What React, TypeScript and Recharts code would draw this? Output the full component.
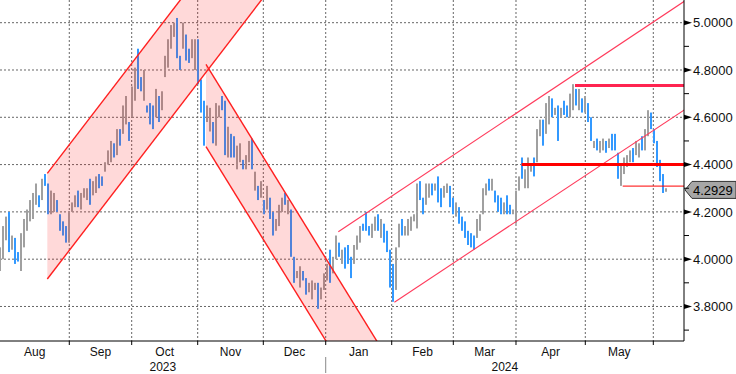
import React from 'react';
import {
  ComposedChart,
  Bar,
  Cell,
  Area,
  XAxis,
  YAxis,
  CartesianGrid,
  ReferenceLine,
} from 'recharts';

// daily high / low, one entry per trading day starting 1 Aug 2023
const highs = [
  4.05, 4.14, 4.18, 4.2, 4.1, 4.09, 4.03, 4.11, 4.17, 4.21,
  4.25, 4.28, 4.32, 4.27, 4.34, 4.36, 4.32, 4.29, 4.28, 4.25,
  4.19, 4.16, 4.14, 4.2, 4.24, 4.27, 4.29, 4.28, 4.3, 4.3,
  4.34, 4.33, 4.35, 4.36, 4.35, 4.41, 4.46, 4.5, 4.49, 4.55,
  4.55, 4.65, 4.69, 4.58, 4.73, 4.81, 4.89, 4.77, 4.8, 4.65,
  4.66, 4.65, 4.72, 4.69, 4.71, 4.86, 4.93, 4.99, 5.0, 5.02,
  4.86, 5.0, 4.95, 4.89, 4.93, 4.93, 4.93, 4.76, 4.67, 4.65,
  4.64, 4.58, 4.66, 4.65, 4.69, 4.67, 4.56, 4.53, 4.52, 4.48,
  4.49, 4.42, 4.44, 4.5, 4.51, 4.37, 4.31, 4.33, 4.25, 4.31,
  4.26, 4.2, 4.17, 4.23, 4.26, 4.28, 4.25, 4.21, 4.01, 3.95,
  3.97, 3.95, 3.92, 3.9, 3.91, 3.9, 3.9, 3.88, 3.94, 3.98,
  4.04, 4.01, 4.1, 4.07, 4.04, 4.05, 4.06, 4.01, 4.06, 4.1,
  4.14, 4.15, 4.2, 4.14, 4.15, 4.18, 4.19, 4.17, 4.15, 4.12,
  4.04, 3.98, 4.05, 4.15, 4.17, 4.14, 4.17, 4.18, 4.19, 4.32,
  4.33, 4.26, 4.32, 4.32, 4.32, 4.32, 4.35, 4.3, 4.31, 4.32,
  4.31, 4.26, 4.24, 4.22, 4.18, 4.16, 4.12, 4.11, 4.1, 4.17,
  4.19, 4.3, 4.32, 4.34, 4.34, 4.29, 4.27, 4.26, 4.24, 4.27,
  4.23, 4.21, 4.29, 4.35, 4.43, 4.38, 4.43, 4.4, 4.43, 4.55,
  4.59, 4.59, 4.66, 4.69, 4.68, 4.64, 4.65, 4.64, 4.67, 4.65,
  4.7, 4.74, 4.72, 4.72, 4.68, 4.69, 4.66, 4.6, 4.5, 4.51,
  4.5, 4.51, 4.5, 4.51, 4.53, 4.53, 4.45, 4.4, 4.43, 4.44,
  4.46, 4.47, 4.5, 4.49, 4.52, 4.55, 4.63, 4.62, 4.55, 4.5,
  4.42, 4.36, 4.3,
];

const lows = [
  3.95, 4.0, 4.08, 4.03, 4.04, 3.98, 3.99, 3.95, 4.05, 4.12,
  4.16, 4.17, 4.23, 4.22, 4.25, 4.31, 4.19, 4.19, 4.2, 4.2,
  4.12, 4.1, 4.07, 4.07, 4.2, 4.22, 4.22, 4.21, 4.26, 4.25,
  4.23, 4.27, 4.28, 4.3, 4.31, 4.37, 4.4, 4.41, 4.43, 4.44,
  4.48, 4.53, 4.57, 4.5, 4.6, 4.67, 4.72, 4.71, 4.67, 4.62,
  4.57, 4.55, 4.6, 4.58, 4.63, 4.77, 4.81, 4.89, 4.94, 4.85,
  4.8, 4.89, 4.84, 4.83, 4.85, 4.8, 4.74, 4.62, 4.48, 4.58,
  4.54, 4.49, 4.48, 4.6, 4.63, 4.44, 4.43, 4.43, 4.43, 4.38,
  4.41, 4.38, 4.38, 4.41, 4.38, 4.29, 4.25, 4.26, 4.19, 4.21,
  4.17, 4.1, 4.12, 4.14, 4.2, 4.23, 4.19, 4.01, 3.9, 3.92,
  3.88, 3.91, 3.85, 3.86, 3.83, 3.87, 3.79, 3.83, 3.87, 3.91,
  3.9, 3.94, 4.0, 4.01, 3.98, 3.96, 3.98, 3.92, 3.98, 4.04,
  4.07, 4.12, 4.12, 4.1, 4.09, 4.12, 4.12, 4.09, 4.07, 4.03,
  3.88, 3.82, 3.87, 4.05, 4.1, 4.1, 4.1, 4.12, 4.16, 4.13,
  4.25, 4.19, 4.23, 4.26, 4.27, 4.29, 4.24, 4.22, 4.26, 4.28,
  4.22, 4.19, 4.18, 4.15, 4.12, 4.09, 4.06, 4.05, 4.04, 4.09,
  4.12, 4.19, 4.27, 4.29, 4.29, 4.24, 4.2, 4.19, 4.19, 4.19,
  4.19, 4.19, 4.15, 4.29, 4.34, 4.3, 4.3, 4.37, 4.35, 4.41,
  4.52, 4.48, 4.53, 4.57, 4.6, 4.61, 4.5, 4.6, 4.61, 4.6,
  4.6, 4.63, 4.65, 4.63, 4.62, 4.62, 4.58, 4.5, 4.47, 4.46,
  4.45, 4.46, 4.45, 4.47, 4.46, 4.46, 4.34, 4.31, 4.36, 4.39,
  4.41, 4.41, 4.44, 4.43, 4.46, 4.46, 4.52, 4.55, 4.49, 4.39,
  4.33, 4.28, 4.285,
];

// 1 = closed higher (grey bar), 0 = closed lower (blue bar)
const ups = [
  1, 1, 1, 0, 1, 0, 0, 1, 1, 1,
  1, 1, 1, 0, 1, 0, 0, 1, 1, 0,
  0, 0, 0, 1, 1, 1, 0, 1, 1, 1,
  0, 1, 1, 0, 0, 1, 1, 1, 0, 1,
  0, 1, 1, 0, 1, 1, 0, 0, 1, 0,
  0, 0, 1, 0, 1, 1, 1, 1, 1, 0,
  0, 1, 0, 0, 1, 1, 0, 0, 0, 1,
  1, 0, 1, 1, 0, 0, 1, 0, 0, 1,
  1, 0, 1, 1, 0, 1, 0, 1, 0, 1,
  0, 0, 1, 1, 1, 0, 1, 0, 0, 1,
  1, 0, 0, 1, 1, 1, 0, 1, 1, 1,
  0, 1, 1, 0, 1, 0, 0, 0, 1, 1,
  1, 0, 0, 0, 1, 1, 0, 1, 0, 0,
  0, 0, 1, 1, 0, 1, 1, 1, 1, 1,
  0, 0, 1, 1, 0, 1, 0, 0, 1, 1,
  0, 0, 1, 0, 0, 0, 0, 0, 0, 1,
  1, 1, 1, 0, 1, 0, 0, 0, 1, 0,
  0, 1, 1, 1, 0, 1, 1, 1, 0, 1,
  1, 0, 1, 1, 0, 1, 0, 1, 0, 0,
  1, 1, 0, 1, 0, 1, 0, 0, 1, 0,
  1, 1, 0, 1, 0, 0, 0, 1, 1, 1,
  1, 0, 1, 1, 0, 1, 1, 0, 0, 0,
  0, 0, 1,
];

// month boundaries on the day index (Sep ... Jun) and the month each one closes
const monthEdges = [22.93, 43.73, 65.73, 87.6, 108.4, 130.4, 150.93, 171.83, 194.93, 217.6];
const monthLabels = ['Aug', 'Sep', 'Oct', 'Nov', 'Dec', 'Jan', 'Feb', 'Mar', 'Apr', 'May'];
const yearLabels = ['2023', '2024'];
const yearEdge = monthEdges[4];

const yTicks = [3.7, 3.8, 3.9, 4.0, 4.1, 4.2, 4.3, 4.4, 4.5, 4.6, 4.7, 4.8, 4.9, 5.0];
const yGrid = [3.8, 4.0, 4.2, 4.4, 4.6, 4.8, 5.0];

// drawn channels: [lower, upper] at start and end day
const riseChannel = [
  { day: 15.6, band: [3.916, 4.363] },
  { day: 90, band: [5.146, 5.593] },
];
const fallChannel = [
  { day: 68.5, band: [4.476, 4.824] },
  { day: 130, band: [3.212, 3.56] },
];
const trendTop = [
  { day: 112.6, v: 4.116 },
  { day: 228, v: 5.091 },
];
const trendBottom = [
  { day: 131.3, v: 3.818 },
  { day: 228, v: 4.632 },
];
const highLevel = { day: 191.5, v: 4.734 };
const midLevel = { day: 173.7, v: 4.4 };
const lowLevel = { day: 207.4, v: 4.309 };
const lastPrice = 4.2929;

const X_DOMAIN: [number, number] = [-0.167, 227.83];
const Y_DOMAIN: [number, number] = [3.654, 5.096];
const FONT = '"Liberation Sans", Arial, sans-serif';
const BLUE = '#3399ff';
const GREY = '#a0a0a0';

const rows = highs.map((h, i) => ({ day: i, range: [lows[i], h], up: ups[i] }));

type XTickInfo = { value: number; kind: 'edge' | 'month' | 'year'; text?: string };
const xTickInfo: XTickInfo[] = [];
monthEdges.forEach((e, i) => {
  const prev = i === 0 ? X_DOMAIN[0] : monthEdges[i - 1];
  xTickInfo.push({ value: (prev + e) / 2, kind: 'month', text: monthLabels[i] });
  xTickInfo.push({ value: e, kind: 'edge' });
});
xTickInfo.push({ value: (X_DOMAIN[0] + yearEdge) / 2, kind: 'year', text: yearLabels[0] });
xTickInfo.push({ value: (yearEdge + X_DOMAIN[1]) / 2, kind: 'year', text: yearLabels[1] });
const xTicks = xTickInfo.map(t => t.value).sort((a, b) => a - b);

const renderXTick = (p: any) => {
  const { x, y, payload } = p;
  const info = xTickInfo.find(t => Math.abs(t.value - payload.value) < 1e-6);
  if (!info) return <g />;
  if (info.kind === 'edge') {
    return (
      <g>
        <line x1={x} x2={x} y1={y} y2={y + 4} stroke="#000" />
        {Math.abs(info.value - yearEdge) < 1e-6 && (
          <line x1={x} x2={x} y1={y + 16} y2={y + 32} stroke="#888" />
        )}
      </g>
    );
  }
  return (
    <text
      x={x}
      y={info.kind === 'month' ? y + 15 : y + 30}
      textAnchor="middle"
      fontSize={12}
      fontFamily={FONT}
      fill="#111"
    >
      {info.text}
    </text>
  );
};

const renderYTick = (p: any) => {
  const { x, y, payload } = p;
  const v = payload.value as number;
  if (Math.round(v * 10) % 2 !== 0) {
    return <line x1={x} x2={x + 5} y1={y} y2={y} stroke="#000" />;
  }
  return (
    <g>
      <polygon points={`${x},${y - 2.5} ${x + 8},${y} ${x},${y + 2.5}`} fill="#000" />
      <text x={x + 9} y={y} dy="0.36em" fontSize={13} fontFamily={FONT} fill="#111">
        {v.toFixed(4)}
      </text>
    </g>
  );
};

// hi-lo bar snapped to whole pixels so it stays crisp
const HiLoBar = (p: any) => {
  const { x, y, width, height, fill } = p;
  if (height == null || isNaN(height)) return <g />;
  const cx = Math.round(x + width / 2);
  return <rect x={cx - 1} y={y} width={2} height={Math.max(height, 1)} fill={fill} />;
};

const PriceTag = (props: any) => {
  const { viewBox } = props;
  const x = viewBox.x + viewBox.width;
  const y = viewBox.y;
  const pts = `${x + 1},${y} ${x + 8},${y - 8.5} ${x + 52},${y - 8.5} ${x + 52},${y + 8.5} ${x + 8},${y + 8.5}`;
  return (
    <g>
      <polygon points={pts} fill="#a6a6a6" stroke="#333" />
      <text x={x + 9} y={y} dy="0.36em" fontSize={13} fontFamily={FONT} fill="#000">
        {lastPrice.toFixed(4)}
      </text>
    </g>
  );
};

const seg = (a: { day: number; v: number }, b: { day: number; v: number }) => [
  { x: a.day, y: a.v },
  { x: b.day, y: b.v },
];

const App: React.FC = () => {
  const channelLines = [riseChannel, fallChannel].flatMap(ch => [
    seg({ day: ch[0].day, v: ch[0].band[0] }, { day: ch[1].day, v: ch[1].band[0] }),
    seg({ day: ch[0].day, v: ch[0].band[1] }, { day: ch[1].day, v: ch[1].band[1] }),
  ]);

  return (
    <div style={{ position: 'absolute', left: 0, top: 0, width: 736, height: 374, background: '#fff' }}>
      <ComposedChart width={736} height={374} data={rows} margin={{ top: 0, right: 0, bottom: 0, left: 0 }}>
        <CartesianGrid
          stroke="#666"
          strokeDasharray="2 2"
          horizontalValues={yGrid}
          verticalValues={monthEdges}
        />
        <XAxis
          dataKey="day"
          type="number"
          domain={X_DOMAIN}
          allowDataOverflow
          ticks={xTicks}
          interval={0}
          tick={renderXTick}
          tickLine={false}
          tickSize={0}
          tickMargin={0}
          axisLine={{ stroke: '#000' }}
          height={33}
        />
        <YAxis
          orientation="right"
          type="number"
          domain={Y_DOMAIN}
          allowDataOverflow
          ticks={yTicks}
          interval={0}
          tick={renderYTick}
          tickLine={false}
          tickSize={0}
          tickMargin={0}
          axisLine={{ stroke: '#000' }}
          width={52}
        />
        <Bar dataKey="range" barSize={2} shape={HiLoBar} isAnimationActive={false}>
          {rows.map((r, i) => (
            <Cell key={i} fill={r.up ? GREY : BLUE} />
          ))}
        </Bar>
        <Area
          data={riseChannel}
          dataKey="band"
          type="linear"
          stroke="none"
          fill="#ff0000"
          fillOpacity={0.15}
          dot={false}
          activeDot={false}
          isAnimationActive={false}
          zIndex={350}
        />
        <Area
          data={fallChannel}
          dataKey="band"
          type="linear"
          stroke="none"
          fill="#ff0000"
          fillOpacity={0.15}
          dot={false}
          activeDot={false}
          isAnimationActive={false}
          zIndex={350}
        />
        {channelLines.map((s, i) => (
          <ReferenceLine key={`c${i}`} segment={s} stroke="#ff1f1f" strokeWidth={1.4} ifOverflow="hidden" />
        ))}
        <ReferenceLine segment={seg(trendTop[0], trendTop[1])} stroke="#ff3b5c" strokeWidth={1.1} ifOverflow="hidden" />
        <ReferenceLine segment={seg(trendBottom[0], trendBottom[1])} stroke="#ff3b5c" strokeWidth={1.1} ifOverflow="hidden" />
        <ReferenceLine
          segment={seg(highLevel, { day: X_DOMAIN[1], v: highLevel.v })}
          stroke="#ff2450"
          strokeWidth={3}
          ifOverflow="hidden"
        />
        <ReferenceLine
          segment={seg(midLevel, { day: X_DOMAIN[1], v: midLevel.v })}
          stroke="#ff0000"
          strokeWidth={3}
          ifOverflow="hidden"
        />
        <ReferenceLine
          segment={seg(lowLevel, { day: X_DOMAIN[1], v: lowLevel.v })}
          stroke="#ff0000"
          strokeWidth={1}
          ifOverflow="hidden"
        />
        <ReferenceLine y={lastPrice} stroke="none" label={PriceTag} />
      </ComposedChart>
    </div>
  );
};

export default App;
